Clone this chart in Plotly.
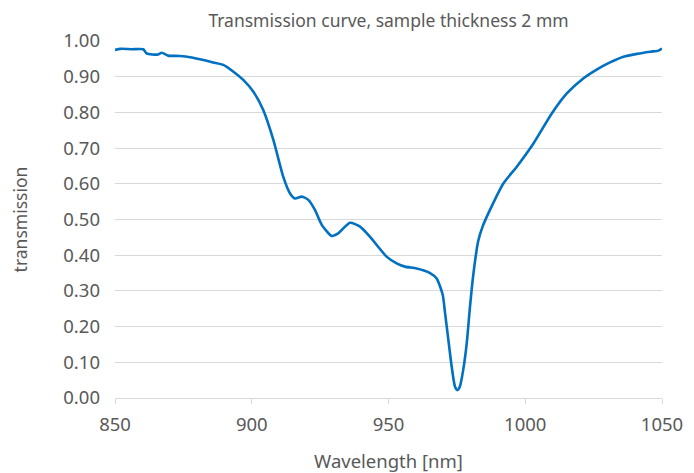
import plotly.graph_objects as go

wavelength = [850.0, 852.0, 856.0, 860.3, 861.6, 865.7, 867.1, 869.4, 873.8, 878.0, 881.1, 885.9, 889.6,
              893.3, 896.9, 900.6, 904.2, 907.9, 911.5, 914.0, 915.8, 918.3, 920.7, 923.1, 925.6,
              929.2, 931.6, 935.9, 939.6, 943.2, 949.3, 953.0, 956.0, 960.3, 965.2, 967.6, 969.8,
              970.7, 971.9, 973.1, 974.3, 975.2, 976.1, 977.3, 978.6, 979.8, 981.0, 982.8, 984.4,
              987.1, 992.0, 996.9, 1003.0, 1009.7, 1015.2, 1021.2, 1026.1, 1031.0, 1035.9,
              1040.8, 1045.7, 1048.7, 1050.0]
transmission = [0.975, 0.978, 0.977, 0.977, 0.965, 0.962, 0.967, 0.959, 0.958, 0.954, 0.949, 0.940, 0.933,
                0.914, 0.891, 0.858, 0.807, 0.723, 0.620, 0.573, 0.559, 0.564, 0.555, 0.527, 0.485,
                0.454, 0.461, 0.491, 0.480, 0.452, 0.396, 0.377, 0.368, 0.363, 0.350, 0.335, 0.290,
                0.237, 0.162, 0.088, 0.032, 0.022, 0.032, 0.078, 0.153, 0.256, 0.345, 0.440, 0.480,
                0.527, 0.601, 0.648, 0.713, 0.797, 0.853, 0.895, 0.920, 0.940, 0.956,
                0.964, 0.970, 0.973, 0.979]

x_ticks = [850, 900, 950, 1000, 1050]
y_ticks = [0.0, 0.1, 0.2, 0.3, 0.4, 0.5, 0.6, 0.7, 0.8, 0.9, 1.0]

grey = "#595959"
font = "Noto Sans"

fig = go.Figure(go.Scatter(
    x=wavelength, y=transmission, mode="lines",
    line=dict(color="#0070C0", width=2.6, shape="spline", smoothing=0.6),
    showlegend=False,
))

fig.update_layout(
    width=686, height=465,
    margin=dict(l=107, r=32, t=33, b=75, autoexpand=False),
    paper_bgcolor="white", plot_bgcolor="white",
    font=dict(family=font, color=grey, size=17),
    title=dict(text="Transmission curve, sample thickness 2 mm", x=0.5, xref="paper",
               y=1 - 13 / 465, yref="container", xanchor="center", yanchor="middle",
               font=dict(size=17.5, color=grey, family=font)),
)
fig.update_xaxes(
    range=[850, 1050], tickvals=x_ticks, ticktext=[str(v) for v in x_ticks],
    showgrid=False, zeroline=False, automargin=False,
    showline=True, linecolor="#d9d9d9", linewidth=1,
    ticks="outside", ticklen=5, tickcolor="#d9d9d9",
    tickfont=dict(size=18.5, color=grey), ticklabelstandoff=5,
    title=dict(text="Wavelength [nm]", font=dict(size=18.5, color=grey), standoff=19),
)
fig.update_yaxes(
    range=[0, 1.0], tickvals=y_ticks, ticktext=[f"{v:.2f}" for v in y_ticks],
    showgrid=True, gridcolor="#d9d9d9", gridwidth=1, zeroline=False, automargin=False,
    showline=False, ticks="",
    tickfont=dict(size=18.5, color=grey), ticklabelstandoff=14,
    title=dict(text="transmission", font=dict(size=17.5, color=grey), standoff=36),
)

fig.write_html("out.html")
